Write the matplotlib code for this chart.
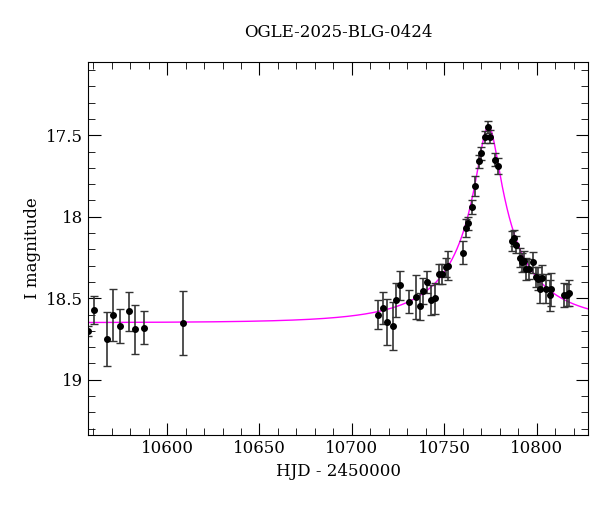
import matplotlib.pyplot as plt
import numpy as np
from matplotlib.ticker import MultipleLocator, FormatStrFormatter

plt.rcParams['font.family'] = 'DejaVu Serif'

hjd = [10557.3, 10560.3, 10567.4, 10570.5, 10574.6, 10579.4, 10582.4, 10587.4, 10608.5,
       10713.9, 10717.1, 10718.9, 10722.0, 10723.9, 10726.1, 10730.9, 10734.7, 10736.9,
       10738.7, 10740.9, 10742.7, 10744.9, 10746.9, 10748.8, 10750.8, 10752.0, 10760.0,
       10761.8, 10763.1, 10765.1, 10766.9, 10768.8, 10770.1, 10771.9, 10773.9, 10775.0,
       10777.7, 10779.1, 10786.5, 10787.8, 10789.1, 10790.9, 10792.1, 10793.2, 10794.1,
       10795.9, 10797.9, 10799.5, 10801.0, 10801.9, 10803.0, 10805.0, 10807.0, 10808.0,
       10814.8, 10816.3, 10817.7]
mag = [18.70, 18.57, 18.75, 18.60, 18.67, 18.58, 18.69, 18.68, 18.65,
       18.60, 18.56, 18.645, 18.67, 18.51, 18.42, 18.52, 18.49, 18.55,
       18.455, 18.40, 18.51, 18.50, 18.35, 18.35, 18.31, 18.30, 18.22,
       18.07, 18.04, 17.94, 17.81, 17.66, 17.61, 17.51, 17.45, 17.51,
       17.65, 17.69, 18.15, 18.13, 18.17, 18.25, 18.28, 18.27, 18.32,
       18.32, 18.28, 18.37, 18.38, 18.44, 18.375, 18.44, 18.48, 18.445,
       18.48, 18.48, 18.47]
err = [0.03, 0.085, 0.167, 0.16, 0.105, 0.12, 0.15, 0.10, 0.196,
       0.09, 0.10, 0.14, 0.15, 0.105, 0.09, 0.07, 0.135, 0.084,
       0.077, 0.07, 0.09, 0.096, 0.06, 0.06, 0.06, 0.09, 0.07,
       0.056, 0.04, 0.04, 0.06, 0.04, 0.04, 0.035, 0.035, 0.04,
       0.04, 0.05, 0.06, 0.05, 0.05, 0.06, 0.06, 0.06, 0.066,
       0.06, 0.063, 0.06, 0.07, 0.09, 0.077, 0.087, 0.095, 0.10,
       0.074, 0.07, 0.08]

# blended point-lens model parameters
t0, u0, te, fs, i_base = 10773.9, 0.11, 53.0, 0.25, 18.65

def model(t):
    u = np.sqrt(u0**2 + ((t - t0) / te)**2)
    a = (u**2 + 2) / (u * np.sqrt(u**2 + 4))
    return i_base - 2.5 * np.log10(fs * a + (1 - fs))

fig = plt.figure(figsize=(6, 5.12), dpi=100)
ax = fig.add_axes([0.147, 0.150, 0.833, 0.729])

tt = np.linspace(10557.3, 10827.8, 1500)
ax.plot(tt, model(tt), color='magenta', lw=1)
ax.errorbar(hjd, mag, yerr=err, fmt='o', color='black', ms=4,
            ecolor='#333333', elinewidth=1.2, capsize=3, capthick=1)

ax.set_xlim(10557.3, 10827.8)
ax.set_ylim(19.34, 17.05)
ax.xaxis.set_major_locator(MultipleLocator(50))
ax.xaxis.set_minor_locator(MultipleLocator(10))
ax.yaxis.set_major_locator(MultipleLocator(0.5))
ax.yaxis.set_minor_locator(MultipleLocator(0.1))
ax.yaxis.set_major_formatter(FormatStrFormatter('%g'))
ax.tick_params(which='both', direction='in', top=True, right=True, labelsize=12)
ax.tick_params(which='major', length=9)
ax.tick_params(which='minor', length=5)

ax.set_xlabel('HJD - 2450000', fontsize=12)
ax.set_ylabel('I magnitude', fontsize=12)
ax.set_title('OGLE-2025-BLG-0424', fontsize=12, pad=18)

fig.savefig('out.png')
